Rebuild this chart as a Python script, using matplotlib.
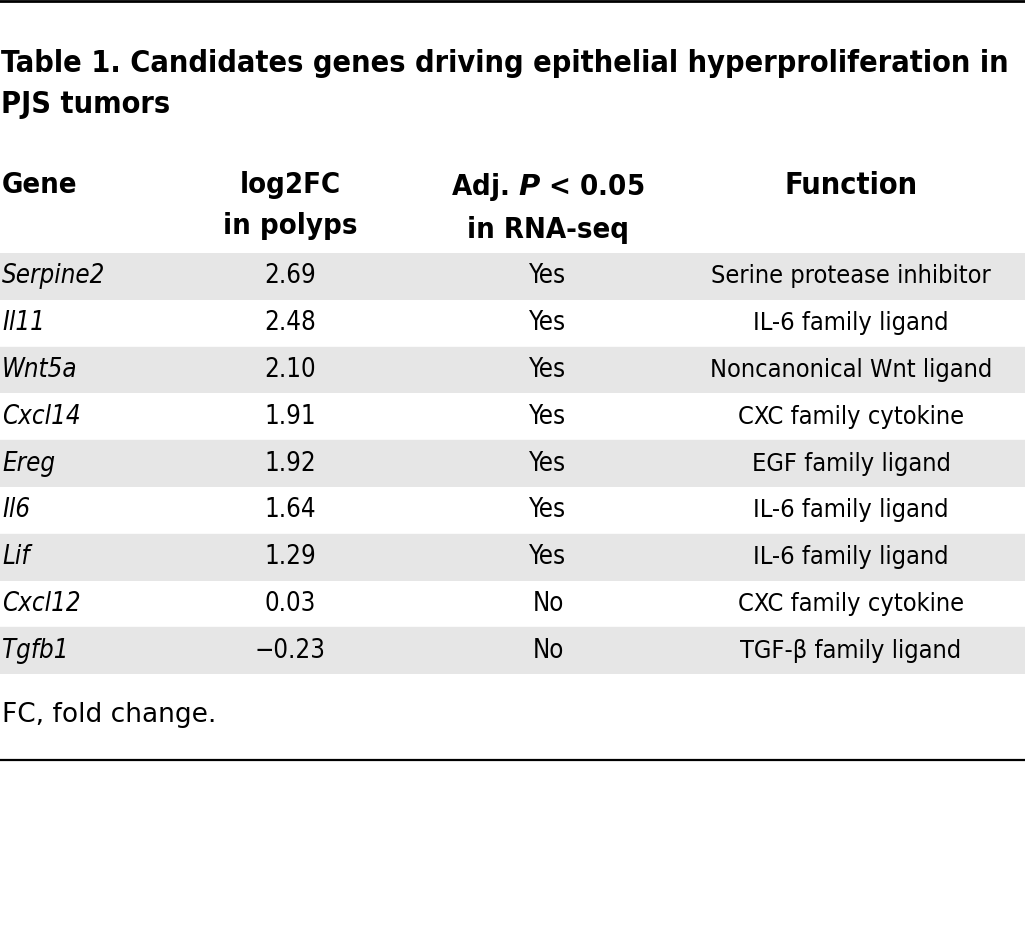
import matplotlib
matplotlib.use("Agg")
import matplotlib.pyplot as plt

genes = ["Serpine2", "Il11", "Wnt5a", "Cxcl14", "Ereg", "Il6", "Lif", "Cxcl12", "Tgfb1"]
log2fc = ["2.69", "2.48", "2.10", "1.91", "1.92", "1.64", "1.29", "0.03", "\u22120.23"]
significant = ["Yes", "Yes", "Yes", "Yes", "Yes", "Yes", "Yes", "No", "No"]
functions = ["Serine protease inhibitor", "IL-6 family ligand", "Noncanonical Wnt ligand",
             "CXC family cytokine", "EGF family ligand", "IL-6 family ligand",
             "IL-6 family ligand", "CXC family cytokine", "TGF-\u03b2 family ligand"]

title = "Table 1. Candidates genes driving epithelial hyperproliferation in\nPJS tumors"
headers = ["Gene", "log2FC\nin polyps", "Adj. $\\it{P}$ < 0.05\nin RNA-seq", "Function"]
footnote = "FC, fold change."

W, H = 1025, 949
plt.rcParams["font.family"] = ["DejaVu Sans"]
plt.rcParams["mathtext.fontset"] = "custom"
plt.rcParams["mathtext.it"] = "DejaVu Sans:italic:bold"

fig = plt.figure(figsize=(W / 100, H / 100), dpi=100)
ax = fig.add_axes([0, 0, 1, 1])
ax.set_xlim(0, W)
ax.set_ylim(H, 0)
ax.axis("off")

stretch = "condensed"
col_x = [2, 290, 548, 851]
col_ha = ["left", "center", "center", "center"]

# rules top and bottom
ax.axhline(1, color="black", lw=2)
ax.axhline(760, color="black", lw=1.6)

ax.text(1, 84, title, fontsize=22, fontweight="bold", va="center", ha="left",
        linespacing=1.55, fontstretch=stretch)

for x, ha, h in zip(col_x, col_ha, headers):
    fs = 22 if h == "Function" else 21
    ax.text(x, 171, h, fontsize=fs, fontweight="bold", va="top", ha=ha,
            linespacing=1.6, fontstretch=stretch)

top, row_h = 253, 46.8
for i, (g, fc, s, f) in enumerate(zip(genes, log2fc, significant, functions)):
    y0 = top + i * row_h
    yc = y0 + row_h / 2
    if i % 2 == 0:
        ax.axhspan(y0, y0 + row_h, color="#e6e6e6", lw=0)
    else:
        ax.axhline(y0 + row_h, color="#e6e6e6", lw=1)
    ax.text(col_x[0], yc, g, fontsize=18.5, style="italic", va="center", ha="left",
            fontstretch=stretch)
    ax.text(col_x[1], yc, fc, fontsize=18.5, va="center", ha="center", fontstretch=stretch)
    ax.text(col_x[2], yc, s, fontsize=18.5, va="center", ha="center", fontstretch=stretch)
    ax.text(col_x[3], yc, f, fontsize=18.2, va="center", ha="center", fontstretch=stretch)

ax.text(2, 715, footnote, fontsize=19, va="center", ha="left")

fig.savefig("out.png", dpi=100)
